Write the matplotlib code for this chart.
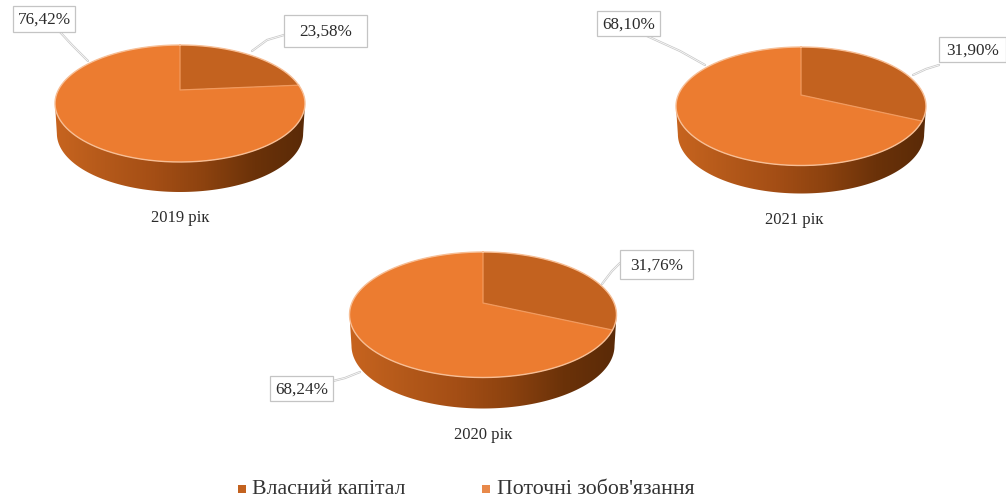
import numpy as np
import matplotlib
matplotlib.use("Agg")
import matplotlib.pyplot as plt
from matplotlib.patches import Polygon, Rectangle
from matplotlib.colors import LinearSegmentedColormap

# Capital structure shares, per cent
years = ["2019 рік", "2021 рік", "2020 рік"]
equity = [23.58, 31.90, 31.76]
liabilities = [76.42, 68.10, 68.24]
series_names = ["Власний капітал", "Поточні зобов'язання"]

# Layout in pixels: pie apex, half width, back and front half heights, thickness
apex_x = [180, 801, 483]
apex_y = [91, 96, 304]
half_w = [125, 125, 133.5]
back_h = [45, 48, 51]
front_h = [72, 70.5, 74.5]
depth = [30, 28, 31]
caption_xy = [(180, 218), (794, 220), (483, 435)]
equity_box = [(284, 16, 367, 48), (939, 38, 1006, 63), (620, 251, 693, 280)]
liab_box = [(13, 7, 75, 33), (597, 12, 660, 37), (270, 377, 333, 402)]
equity_leader = [[(252, 52), (267, 41), (284, 36)], [(913, 76), (926, 70), (939, 66)], [(602, 285), (612, 272), (620, 264)]]
liab_leader = [[(88, 62), (72, 46), (60, 33)], [(705, 66), (680, 52), (647, 37)], [(360, 373), (345, 379), (333, 382)]]

EQUITY_COLOR = "#C3621F"
LIAB_COLOR = "#EC7C30"
RIM_COLOR = "#F7BE95"
TEXT_COLOR = "#2B2B2B"
SERIF = "Liberation Serif"

side_cmap = LinearSegmentedColormap.from_list(
    "side", ["#C7641F", "#B4591A", "#A44E15", "#8C420F", "#6B3209", "#5A2A07"])

fig = plt.figure(figsize=(10.06, 5.02), dpi=100)
ax = fig.add_axes([0, 0, 1, 1])


def project(theta, cx, cy, w, back, front):
    """Perspective view of a unit disc; theta runs clockwise from 12 o'clock."""
    u, v = np.sin(theta), np.cos(theta)
    k = (front - back) / (front + back)
    a = back * (1 + k)
    b = w * np.sqrt(1 - k * k)
    d = 1 + k * v
    return cx + b * u / d, cy - a * v / d


def fmt(value):
    return f"{value:.2f}%".replace(".", ",")


def label(box, leader, value):
    x0, y0, x1, y1 = box
    xs, ys = zip(*leader)
    ax.plot(xs, ys, color="#C9C9C9", lw=1.6, zorder=5, solid_capstyle="round")
    ax.plot(xs, ys, color="#FFFFFF", lw=0.5, zorder=5)
    ax.add_patch(Rectangle((x0, y0), x1 - x0, y1 - y0, fc="white", ec="#C4C4C4", lw=0.9, zorder=6))
    ax.text((x0 + x1) / 2, (y0 + y1) / 2, fmt(value), ha="center", va="center",
            fontsize=12.3, family=SERIF, color=TEXT_COLOR, zorder=7)


for i in range(len(years)):
    cx, cy, w, bk, fr, dp = apex_x[i], apex_y[i], half_w[i], back_h[i], front_h[i], depth[i]
    t = np.linspace(0, 2 * np.pi, 721)
    ex, ey = project(t, cx, cy, w, bk, fr)

    # Side wall: front arc of the top rim joined to the same arc moved down
    i_r, i_l = int(np.argmax(ex)), int(np.argmin(ex))
    ax_x, ax_y = ex[i_r:i_l + 1], ey[i_r:i_l + 1]
    mid = ex.mean()
    bx = mid + (ax_x - mid) * 0.985
    by = ax_y + dp
    side = Polygon(np.column_stack([np.r_[ax_x, bx[::-1]], np.r_[ax_y, by[::-1]]]),
                   closed=True, fc="none", ec="none", transform=ax.transData)
    ax.add_patch(side)
    grad = ax.imshow(np.linspace(0, 1, 256)[None, :], cmap=side_cmap, aspect="auto",
                     extent=(ex.min(), ex.max(), by.max() + 4, ey.min()), zorder=2)
    grad.set_clip_path(side)

    # Top face: dark slice starts at 12 o'clock and runs clockwise
    split = 2 * np.pi * equity[i] / (equity[i] + liabilities[i])
    t1 = np.linspace(0, split, 181)
    t2 = np.linspace(split, 2 * np.pi, 361)
    x1, y1 = project(t1, cx, cy, w, bk, fr)
    x2, y2 = project(t2, cx, cy, w, bk, fr)
    ax.add_patch(Polygon(np.column_stack([np.r_[cx, x2], np.r_[cy, y2]]), closed=True,
                         fc=LIAB_COLOR, ec="none", zorder=3))
    ax.add_patch(Polygon(np.column_stack([np.r_[cx, x1], np.r_[cy, y1]]), closed=True,
                         fc=EQUITY_COLOR, ec="none", zorder=3))
    # Pale bevel on the slice edges and around the rim
    ax.plot([x1[0], cx, x1[-1]], [y1[0], cy, y1[-1]], color="#F19A5E", lw=0.9, zorder=4)
    ax.plot(ex, ey, color=RIM_COLOR, lw=1.0, zorder=4)

    ax.text(*caption_xy[i], years[i], ha="center", va="center", fontsize=12,
            family=SERIF, color=TEXT_COLOR)
    label(equity_box[i], equity_leader[i], equity[i])
    label(liab_box[i], liab_leader[i], liabilities[i])

# Legend along the bottom edge
legend_marker_x = [242, 486]
legend_text_x = [252, 497]
for name, color, mx, tx in zip(series_names, [EQUITY_COLOR, "#E8894A"], legend_marker_x, legend_text_x):
    ax.add_patch(Rectangle((mx - 4, 486), 8, 8, fc=color, ec="none"))
    ax.text(tx, 490, name, ha="left", va="center", fontsize=15.7, family=SERIF, color="#333333")

ax.set_xlim(0, 1006)
ax.set_ylim(502, 0)
ax.axis("off")
fig.savefig("out.png", dpi=100, facecolor="white")
